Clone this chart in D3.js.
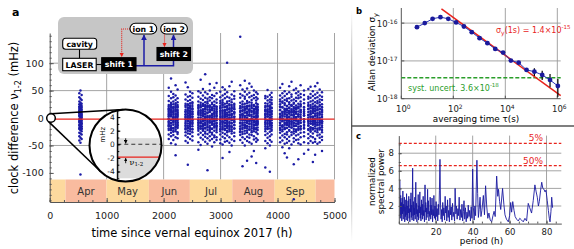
<!DOCTYPE html>
<html>
<head>
<meta charset="utf-8">
<script src="https://cdnjs.cloudflare.com/ajax/libs/d3/7.8.5/d3.min.js"></script>
<style>
body { margin: 0; background: #fff; }
svg { display: block; font-family: "DejaVu Sans", Verdana, sans-serif; }
</style>
</head>
<body>
<script>
"use strict";

// ---------- panel a data ----------
var monthStart = [0, 277, 997, 1741, 2461, 3205, 3949, 4669, 5000];
var monthName = ["", "Apr", "May", "Jun", "Jul", "Aug", "Sep", ""];
var meanShift = -1.9; // mHz

// measurement runs: hour since equinox, and clock differences (mHz) in that run
var runHour = [520, 540, 560,
	2090, 2130, 2170, 2210, 2245,
	2385, 2425, 2465, 2505,
	2610, 2650, 2690, 2730, 2770, 2810, 2850, 2890, 2930,
	2995, 3035, 3075, 3115, 3155, 3195, 3240,
	3345, 3385, 3425, 3465, 3505, 3545, 3585, 3625, 3650,
	3785, 3825, 3865, 3895,
	4045, 4085, 4125, 4165, 4205, 4245, 4285, 4325, 4365, 4405, 4465,
	4540, 4580, 4620, 4660, 4700, 4740, 4780];
// wider spread of each run
var runVals = [
	[12,-8,25,-20,3,38,-33,17,-2,-14,45,8,-27,30,-41,21],
	[-5,15,-22,28,2,-12,50,-36,9,-18,35,-3,22,-28,14,-45,-103],
	[6,-15,19,-30,33,-7,11,-24,42,0,-10,26,-38,16,-19,4],
	[18,-6,31,-22,4,12,-15,40,-30,24,-2,9,-38,15,55,-11],
	[-9,22,3,-27,14,-17,36,7,-4,28,-33,19,-46,10,-20,48,72],
	[25,-12,6,-31,17,-3,38,-19,11,30,-25,1,-8,44,-40,20],
	[-2,14,-24,33,8,-15,21,-35,27,-7,3,-48,16,41,-21,60,-68],
	[10,-18,29,-5,19,-29,2,36,-12,24,-37,13,-9,52,-26,6],
	[7,-21,26,-10,34,-3,15,-32,20,-16,43,1,-26,12,-42,65],
	[-14,23,4,-28,31,-6,17,-19,9,39,-35,25,-1,-45,14,56,-85],
	[20,-9,33,-24,5,-16,27,-3,12,-38,40,-12,18,-29,2,48],
	[-4,16,-20,29,-11,8,-33,22,37,-26,11,-7,45,-41,3,26],
	[13,-17,30,-8,22,-30,6,-14,39,-23,17,-3,-44,49,10,-58],
	[-7,24,-19,35,1,-27,14,-10,28,-36,8,46,-15,19,-49,70],
	[22,-4,-23,16,33,-13,5,-31,26,-2,41,-39,11,-20,53,-6],
	[3,-25,18,-11,29,-34,12,-1,37,-18,24,-43,7,47,-28,80],
	[-12,27,-6,21,-29,9,35,-16,2,-37,15,44,-22,30,-47,-95],
	[16,-8,32,-20,4,23,-33,11,-14,38,-26,20,-2,50,-41,62],
	[-3,19,-27,8,36,-12,25,-38,14,-19,42,1,-30,28,-52,17],
	[9,-15,24,-32,30,-6,17,-23,40,-10,6,-44,21,-1,55,-35],
	[-18,12,34,-9,20,-26,3,28,-35,15,-13,45,-40,8,-4,64],
	[14,-20,27,-5,38,-30,9,-12,22,-39,31,0,-24,48,-46,18],
	[-6,25,-16,33,2,-27,19,-9,41,-34,11,-21,29,-48,56,-73],
	[21,-2,-29,15,36,-14,7,-37,26,-19,44,4,-8,-43,13,52],
	[-10,30,-23,10,-4,39,-32,20,-15,27,-42,6,47,-26,16,101],
	[5,-13,23,-35,31,-1,16,-24,37,-7,12,-45,25,-18,58,-62],
	[-15,18,-28,7,34,-10,24,-39,1,29,-21,43,-3,13,-50,66],
	[11,-7,26,-19,40,-33,3,20,-12,35,-27,8,-42,49,-2,17],
	[-1,22,-26,13,37,-15,6,-31,28,-8,18,-40,44,-20,60,148],
	[19,-11,30,-4,-25,14,41,-35,8,-17,25,-45,2,52,-29,-88],
	[-8,26,-18,4,35,-28,15,-2,39,-38,21,-13,48,10,-50,68],
	[12,-23,31,-9,20,-34,1,27,-16,43,-42,9,-5,54,-27,-78],
	[-16,7,29,-21,16,-36,38,-3,23,-10,46,-44,5,-30,63,14],
	[24,-5,-31,11,33,-19,3,-26,40,-12,18,-47,28,-1,57,-70],
	[-3,17,-24,36,-14,8,-33,22,-7,42,-39,13,-20,50,2,-60],
	[8,-26,21,-11,32,-2,-37,15,27,-18,4,-43,38,-9,47,-82],
	[-12,19,2,-29,25,-6,35,-22,11,-40,16,44],
	[15,-9,27,-24,4,36,-31,12,-16,22,-2,-42,40,8,-55,-90],
	[-5,21,-19,32,9,-28,16,-11,39,-36,3,26,-46,13,51,-20],
	[18,-14,6,-33,29,-3,23,-25,10,42,-40,1,-8,34,-50,-98],
	[-9,25,-21,13,-1,33,-30,19,-13,38,-43,7,46,-17,28],
	[20,-3,-27,14,34,-18,8,-36,25,-9,41,-44,2,-22,55,30],
	[-13,28,-6,19,-32,11,37,-24,4,-15,30,-41,45,-1,-53,62],
	[7,-20,24,-10,33,-29,16,-4,40,-35,12,-17,27,-47,49,-64],
	[-2,17,-26,31,-13,6,-38,22,35,-8,-30,14,44,-45,1,-72],
	[25,-11,9,-23,36,-5,18,-34,29,-16,3,-42,47,13,-55,58],
	[-7,22,-17,5,32,-31,13,-1,39,-26,24,-12,-48,43,10,66],
	[14,-24,28,-8,20,-37,2,34,-15,10,-43,26,-4,51,-28,-84,-148],
	[-10,31,-21,16,-3,37,-32,8,23,-14,45,-40,0,-25,54,19],
	[3,-16,26,-30,12,-6,36,-22,19,-39,41,7,-11,48,-46,-75],
	[-15,21,-4,30,-27,10,38,-19,14,-35,2,25,-48,44,-8,60],
	[9,-19,27,-12,34,-33,5,20,-2,42,-26,15,-44,50,-8,-65],
	[-6,24,-22,11,35,-29,17,-3,39,-37,6,-14,28,-46,53,-58],
	[18,-10,30,-25,3,-17,37,-33,13,24,-2,-42,44,-20,57,8],
	[-11,15,-28,26,-4,40,-35,9,-18,32,1,-45,21,-7,49,-80],
	[22,-5,-24,12,36,-15,4,-38,29,-10,18,-43,43,-1,58,-67],
	[-3,27,-19,8,31,-32,20,-12,38,-26,14,-47,2,46,-8,64],
	[11,-21,24,-7,34,-30,16,-2,41,-36,6,-17,29,-44,52],
	[-8,19,-26,13,33,-14,2,-34,25,-6,39,-40,10,47,-22,-60]
];
// dense core of each run
var runCore = [
	[5,-12,20,-3,9,-18,14,-6],[-9,3,18,-15,7,-1,24,-21],[2,-20,13,-4,22,-11,8,-16],
	[-13,7,21,-1,15,-19,3,-8],[11,-3,-14,25,-22,5,16,-10],[-6,13,-18,2,9,-23,19,-1],
	[6,-11,24,-17,1,12,-4,19],[-16,4,15,-8,-2,21,-13,8],[3,-7,11,-19,23,-13,6,-2],
	[8,-17,19,-4,-10,2,13,-23],[-1,14,-7,23,-20,9,-15,6],[12,-9,2,-15,18,-2,7,-21],
	[-5,1,19,-12,8,-20,24,-9],[10,-15,5,-3,21,-8,-19,13],[-11,8,-16,24,3,-6,14,-22],
	[16,-4,-13,8,-19,21,1,-8],[1,19,-9,10,-17,4,23,-3],[-8,12,-17,22,-5,2,13,-23],
	[7,-1,-20,15,4,-11,19,-7],[-12,3,13,-5,22,-17,9,-2],[5,-9,21,-15,-1,11,-22,17],
	[-3,6,-16,12,-9,19,-21,3],[14,-12,8,-1,-18,23,4,-7],[-9,2,-4,20,-14,9,-22,13],
	[3,-18,15,-7,7,-1,22,-12],[-2,10,-9,18,-21,6,-15,1],[8,-4,14,-17,4,-9,20,-24],
	[-5,16,-13,2,24,-7,10,-19],[6,-19,11,-3,-10,18,-24,2],[-13,5,-2,13,21,-20,7,-8],
	[2,-12,18,-23,10,-4,-16,15],[-7,9,-19,5,17,-1,22,-14],[11,-3,-11,21,-6,4,-21,14],
	[-4,13,-16,6,-9,20,-2,-23],[9,-8,3,-18,15,-12,24,-5],[-1,11,-21,17,-6,2,-13,19],
	[4,-8,14,-3,-17,8,21,-10],[-3,7,-12,19,-7,1,-20,14],[12,-4,-15,3,22,-9,7,-18],
	[-6,15,-1,-19,11,5,-11,20],[3,-9,18,-14,-4,9,-23,13],[-8,6,-13,21,-2,15,-18,1],
	[4,-16,11,-5,20,-21,8,-1],[-12,9,-3,17,-8,3,-20,13],[10,-5,-18,4,14,-11,22,-2],
	[-3,13,-7,19,-14,1,-22,8],[6,-10,16,-2,-17,11,-6,23],[-9,4,-20,12,-1,18,-13,7],
	[2,-14,9,-22,17,-5,12,-1],[-5,18,-11,6,-19,3,21,-8],[11,-1,-9,15,-15,6,-21,24],
	[-2,8,-14,19,4,-18,12,-6],[5,-20,16,-9,1,-3,22,-13],[-10,2,-17,20,-6,11,-23,7],
	[3,-6,13,-21,9,-12,18,-2],[-7,14,-3,8,-19,23,-11,4],[9,-13,5,-1,16,-8,-22,20],
	[-4,1,-12,17,-18,8,22,-9],[6,-17,13,-3,20,-10,-6,15]
];

// ---------- panel b data ----------
var adevTau = [4, 8, 16, 32, 64, 128, 256, 512, 1024, 2048, 4096, 8192, 16384, 32768,
	65536, 131072, 262144, 524288, 1048576];
var adevSigma = [7.83e-17, 1.0e-16, 1.30e-16, 1.44e-16, 1.30e-16, 1.04e-16, 8.13e-17, 5.77e-17,
	4.0e-17, 2.94e-17, 2.08e-17, 1.66e-17, 1.02e-17, 9.0e-18, 5.77e-18, 5.2e-18, 4.26e-18,
	3.13e-18, 2.17e-18];
var adevHi = [null, null, null, null, null, null, null, null, null, null, null, null,
	1.1e-17, 9.8e-18, 6.5e-18, 6.4e-18, 5.53e-18, 4.52e-18, 3.33e-18];
var adevLo = [null, null, null, null, null, null, null, null, null, null, null, null,
	9.3e-18, 8.3e-18, 5.1e-18, 4.0e-18, 3.13e-18, 2.0e-18, 1.13e-18];
var fitTau = [35, 1.35e6];
var fitSigma = [2.37e-16, 1.2e-18];
var systUncert = 3.6e-18;

// ---------- panel c data ----------
var specData = [
	[0.6,4.9],[0.8,0.6],[1.0,3.2],[1.2,0.9],[1.4,2.4],[1.6,0.3],[1.8,2.9],[2.0,1.1],[2.2,3.7],[2.4,0.5],
	[2.6,2.2],[2.8,1.4],[3.0,3.0],[3.2,0.2],[3.4,1.9],[3.6,0.8],[3.8,2.7],[4.0,0.4],[4.2,3.4],[4.4,1.0],
	[4.6,2.0],[4.8,0.3],[5.0,2.6],[5.2,1.2],[5.4,3.1],[5.6,0.6],[5.8,1.7],[6.0,0.2],[6.2,2.8],[6.4,1.3],
	[6.6,3.5],[6.8,0.7],[7.0,2.1],[7.2,0.4],[7.5,6.3],[7.7,0.9],[7.9,2.5],[8.1,0.3],[8.3,1.8],[8.5,1.0],
	[8.7,3.0],[8.9,0.5],[9.2,4.7],[9.4,1.1],[9.6,2.3],[9.8,0.2],[10.0,1.6],[10.2,0.8],[10.5,3.3],[10.7,0.4],
	[10.9,2.0],[11.1,1.2],[11.4,3.6],[11.6,0.6],[11.8,1.9],[12.0,0.3],[12.3,2.7],[12.5,1.0],[12.7,2.2],[12.9,0.5],
	[13.2,3.1],[13.4,0.9],[13.6,1.5],[13.9,0.2],[14.2,4.4],[14.4,1.3],[14.6,2.4],[14.8,0.4],[15.1,1.8],[15.3,0.7],
	[15.6,3.9],[15.8,1.1],[16.0,2.6],[16.3,0.3],[16.5,1.4],[16.8,0.8],[17.0,3.0],[17.3,0.5],[17.5,2.1],[17.8,1.0],
	[18.0,2.9],[18.3,0.2],[18.5,1.6],[18.8,0.9],[19.0,3.2],[19.3,0.6],[19.6,2.0],[19.9,0.4],
	[20.2,2.5],[20.5,0.8],[20.8,1.7],[21.1,0.3],[21.4,2.2],[21.7,1.0],[22.0,3.8],[22.3,7.3],[22.6,2.1],[22.9,0.5],
	[23.2,1.6],[23.5,0.2],[23.8,2.4],[24.1,0.9],[24.4,1.8],[24.8,0.4],[25.1,3.1],[25.4,1.2],[25.7,2.0],[26.0,0.3],
	[26.4,2.7],[26.7,0.7],[27.0,1.5],[27.4,0.2],[27.7,2.9],[28.0,1.0],[28.4,1.9],[28.7,0.4],[29.1,2.3],[29.4,0.8],
	[29.8,1.3],[30.2,0.3],[30.5,4.0],[30.9,1.1],[31.2,2.0],[31.6,0.5],[32.0,1.7],[32.3,0.9],[32.7,3.0],[33.1,0.4],
	[33.5,1.6],[33.9,0.7],[34.2,2.2],[34.6,0.3],[35.0,1.4],[35.3,2.6],[35.7,0.5],[36.1,1.8],[36.5,0.2],[36.9,1.3],
	[37.3,0.6],[37.6,2.1],[38.0,0.8],[38.4,1.5],[38.8,0.3],[39.2,1.9],[39.6,0.6],[40.0,6.2],[40.4,1.8],[40.8,0.4],
	[41.2,2.0],[41.6,0.9],[42.0,4.5],[42.3,7.2],[42.7,3.4],[43.1,0.7],[43.5,1.6],[44.0,3.0],[44.5,0.8],[45.0,1.5],
	[45.8,3.2],[46.4,1.0],[47.0,4.3],[47.6,2.0],[48.2,0.6],[48.8,1.2],[49.5,0.4],[50.3,0.2],[51.0,0.9],[51.6,1.4],
	[52.2,0.8],[53.0,5.4],[53.6,3.1],[54.0,3.9],[54.6,2.5],[55.2,1.6],[56.2,4.0],[56.9,2.2],[57.5,1.0],[58.3,0.5],
	[59.3,0.2],[60.0,0.9],[60.6,2.4],[61.1,1.3],[61.7,2.5],[62.4,1.5],[63.0,0.8],[63.8,0.5],[64.7,0.3],[65.5,0.6],
	[66.5,0.4],[67.4,0.2],[68.3,0.6],[69.2,0.3],[70.1,2.3],[70.9,1.8],[71.9,1.2],[72.8,2.6],[73.7,4.4],[74.4,3.6],
	[75.0,3.0],[75.6,2.0],[76.1,2.5],[76.8,3.8],[77.4,4.7],[78.0,4.0],[78.6,3.9],[79.2,3.6],[79.7,3.8],[80.4,2.6],
	[81.0,1.5],[81.5,0.6],[81.9,0.2],[82.4,1.4],[82.8,3.0],[83.3,1.8]
];
var falseAlarm = [9.12, 6.58];
var falseAlarmLabel = ["5%", "50%"];

// ---------- drawing ----------
var width = 574, height = 249;
var red = "#e8231c", blue = "#1c1ca6", gridCol = "#9a9a9a";

var svg = d3.select("body").append("svg")
	.attr("width", width)
	.attr("height", height);
var defs = svg.append("defs");

function hline(g, x1, x2, y, col, w) {
	return g.append("line").attr("x1", x1).attr("x2", x2).attr("y1", y).attr("y2", y)
		.attr("stroke", col).attr("stroke-width", w);
}
function vline(g, x, y1, y2, col, w) {
	return g.append("line").attr("x1", x).attr("x2", x).attr("y1", y1).attr("y2", y2)
		.attr("stroke", col).attr("stroke-width", w);
}
function pow10(t, e, size) {
	t.append("tspan").text("10");
	t.append("tspan").attr("font-size", size).attr("dy", "-0.5em").text(e);
}
function mark(id, col) {
	defs.append("marker").attr("id", id).attr("viewBox", "0 0 10 10").attr("refX", 9).attr("refY", 5)
		.attr("markerWidth", 4).attr("markerHeight", 4).attr("orient", "auto")
		.append("path").attr("d", "M0,0L10,5L0,10z").attr("fill", col);
}
mark("arB", blue);
mark("arR", red);
mark("arK", "#000");

// ===== panel a =====
var xA = d3.scaleLinear().domain([0, 5000]).range([49.7, 334.5]);
var yA = d3.scaleLinear().domain([-153, 155]).range([202, 33]);
var gA = svg.append("g");

[1000, 2000, 3000, 4000, 5000].forEach(function(d) {
	vline(gA, xA(d), yA(155), yA(-112), gridCol, 0.9);
});
[-50, 50, 100].forEach(function(d) {
	hline(gA, xA(0), xA(5000), yA(d), gridCol, 0.9);
});

// month bands
var months = monthName.map(function(n, i) { return { name: n, a: monthStart[i], b: monthStart[i + 1], i: i }; });
gA.selectAll(".month").data(months).enter().append("rect")
	.attr("x", function(d) { return xA(d.a); })
	.attr("width", function(d) { return xA(d.b) - xA(d.a); })
	.attr("y", yA(-112))
	.attr("height", yA(-153) - yA(-112))
	.attr("fill", function(d) { return d.i % 2 ? "#f9bb9f" : "#fdd99e"; });
gA.selectAll(".mlabel").data(months.filter(function(d) { return d.name; })).enter().append("text")
	.attr("x", function(d) { return xA((d.a + d.b) / 2); })
	.attr("y", 194.5)
	.attr("text-anchor", "middle")
	.attr("font-size", 10)
	.attr("fill", "#333")
	.text(function(d) { return d.name; });

// axes
gA.append("g").attr("transform", "translate(" + xA(0) + ",0)")
	.call(d3.axisLeft(yA).tickValues([-100, -50, 0, 50, 100]).tickSizeInner(-4).tickSizeOuter(0)
		.tickPadding(6).tickFormat(function(d) { return String(d); }));
gA.append("g").attr("transform", "translate(" + xA(0) + ",0)")
	.call(d3.axisLeft(yA).tickValues(d3.range(-150, 151, 10)).tickSize(-2).tickFormat(""))
	.call(function(g) { g.select(".domain").remove(); });
gA.append("g").attr("transform", "translate(0," + yA(-153) + ")")
	.call(d3.axisBottom(xA).tickValues([0, 1000, 2000, 3000, 4000, 5000]).tickSizeInner(-4).tickSizeOuter(0)
		.tickPadding(10).tickFormat(function(d) { return String(d); }));
gA.append("g").attr("transform", "translate(0," + yA(-153) + ")")
	.call(d3.axisBottom(xA).tickValues(d3.range(0, 5001, 250)).tickSize(-2).tickFormat(""))
	.call(function(g) { g.select(".domain").remove(); });
gA.selectAll(".tick text").attr("font-size", 9.5).attr("font-family", "DejaVu Sans").attr("fill", "#222");
gA.selectAll(".tick line").attr("stroke", "#555");
gA.selectAll(".domain").attr("stroke", "#555");

// data points
var pts = [];
runHour.forEach(function(h, i) {
	runVals[i].concat(runCore[i]).forEach(function(v) { pts.push([h, v]); });
});
gA.selectAll(".pt").data(pts).enter().append("circle")
	.attr("cx", function(d) { return xA(d[0]); })
	.attr("cy", function(d) { return yA(d[1]); })
	.attr("r", 1.25)
	.attr("fill", blue);

hline(gA, xA(0), xA(5000), yA(meanShift), red, 1.3);

// axis titles
gA.append("text").attr("x", 192).attr("y", 237).attr("text-anchor", "middle").attr("font-size", 11.5)
	.text("time since vernal equinox 2017 (h)");
var yt = gA.append("text").attr("transform", "translate(18,118) rotate(-90)")
	.attr("text-anchor", "middle").attr("font-size", 11.5);
yt.append("tspan").text("clock difference \u03bd");
yt.append("tspan").attr("font-size", 8).attr("dy", 3).text("1-2");
yt.append("tspan").attr("dy", -3).text(" (mHz)");
svg.append("text").attr("x", 12).attr("y", 16).attr("font-size", 11).attr("font-weight", "bold").text("a");

// schematic inset
var sch = svg.append("g").attr("font-weight", "bold").attr("font-size", 7.8);
sch.append("rect").attr("x", 58).attr("y", 17).attr("width", 135).attr("height", 57).attr("rx", 6)
	.attr("fill", "#c6c6c6");
function box(x, y, w, h, label, dark, rx) {
	sch.append("rect").attr("x", x).attr("y", y).attr("width", w).attr("height", h).attr("rx", rx)
		.attr("fill", dark ? "#000" : "#fff").attr("stroke", "#000").attr("stroke-width", 1.1);
	sch.append("text").attr("x", x + w / 2).attr("y", y + h / 2 + 3).attr("text-anchor", "middle")
		.attr("fill", dark ? "#fff" : "#000").text(label);
}
vline(sch, 79.5, 49.3, 58.3, "#000", 1.1);
hline(sch, 96.2, 101.7, 64.5, "#000", 1.1);
sch.append("path").attr("d", "M136,65.7H173.5V60.5").attr("fill", "none").attr("stroke", blue).attr("stroke-width", 1.5);
sch.append("path").attr("d", "M144,65.7V35").attr("fill", "none").attr("stroke", blue).attr("stroke-width", 1.5)
	.attr("marker-end", "url(#arB)");
sch.append("path").attr("d", "M173.5,47.5V35").attr("fill", "none").attr("stroke", blue).attr("stroke-width", 1.5)
	.attr("marker-end", "url(#arB)");
sch.append("path").attr("d", "M130,29H121.7V56.7").attr("fill", "none").attr("stroke", red).attr("stroke-width", 1.1)
	.attr("stroke-dasharray", "1,1").attr("marker-end", "url(#arR)");
sch.append("path").attr("d", "M164.5,34.5V46.7").attr("fill", "none").attr("stroke", red).attr("stroke-width", 1.1)
	.attr("stroke-dasharray", "1,1").attr("marker-end", "url(#arR)");
box(62.7, 38.3, 34, 11, "cavity", false, 3);
box(62.7, 58.3, 33.5, 12.4, "LASER", false, 0);
box(101.7, 57.7, 34.3, 13, "shift 1", true, 0);
box(157, 47.5, 33.5, 13, "shift 2", true, 0);
box(130, 23.3, 26.7, 10.7, "ion 1", false, 5.3);
box(160.7, 23.3, 26.7, 10.7, "ion 2", false, 5.3);

// magnifier
var c1 = { x: xA(0) + 1.3, y: yA(0), r: 4.3 };
var c2 = { x: 125.5, y: 145.5, r: 36 };
var mag = svg.append("g");
(function() {
	var dx = c2.x - c1.x, dy = c2.y - c1.y, d = Math.sqrt(dx * dx + dy * dy);
	var base = Math.atan2(dy, dx), th = Math.acos((c2.r - c1.r) / d);
	[base + th, base - th].forEach(function(a) {
		var nx = Math.cos(a), ny = Math.sin(a);
		mag.append("line")
			.attr("x1", c1.x - c1.r * nx).attr("y1", c1.y - c1.r * ny)
			.attr("x2", c2.x - c2.r * nx).attr("y2", c2.y - c2.r * ny)
			.attr("stroke", "#000").attr("stroke-width", 1.5);
	});
})();
mag.append("circle").attr("cx", c1.x).attr("cy", c1.y).attr("r", c1.r)
	.attr("fill", "#fff").attr("stroke", "#000").attr("stroke-width", 1.5);
mag.append("circle").attr("cx", c2.x).attr("cy", c2.y).attr("r", c2.r).attr("fill", "#fff");
defs.append("clipPath").attr("id", "magClip").append("circle")
	.attr("cx", c2.x).attr("cy", c2.y).attr("r", c2.r - 0.5);
var inner = mag.append("g").attr("clip-path", "url(#magClip)");
var yI = d3.scaleLinear().domain([-5, 5]).range([178.3, 110.3]);
var axX = 117.3, rightX = 163;
inner.append("rect").attr("x", axX).attr("y", yI(0.9)).attr("width", rightX - axX)
	.attr("height", yI(-5) - yI(0.9)).attr("fill", "#dcdcdc");
hline(inner, axX, rightX, yI(0), "#333", 1.1).attr("stroke-dasharray", "4,3");
hline(inner, axX, rightX, yI(meanShift), red, 1.3);
inner.append("g").attr("transform", "translate(" + axX + ",0)")
	.call(d3.axisLeft(yI).tickValues([-4, -2, 0, 2, 4]).tickSizeInner(-3).tickSizeOuter(0).tickPadding(2.5)
		.tickFormat(function(d) { return String(d); }))
	.call(function(g) {
		g.select(".domain").attr("stroke", "#000");
		g.selectAll("text").attr("font-size", 7.5).attr("font-family", "DejaVu Sans").attr("fill", "#222");
	});
inner.append("g").attr("transform", "translate(" + axX + ",0)")
	.call(d3.axisLeft(yI).tickValues(d3.range(-5, 6, 1)).tickSize(-2).tickFormat(""))
	.call(function(g) { g.select(".domain").remove(); });
vline(inner, axX, 100, 190, "#000", 1);
// indicator arrows for nu_1-2
inner.append("path").attr("d", "M125.7," + (yI(0) - 6) + "V" + (yI(0) - 1))
	.attr("stroke", "#000").attr("stroke-width", 0.9).attr("marker-end", "url(#arK)");
inner.append("path").attr("d", "M125.7," + (yI(meanShift) + 6) + "V" + (yI(meanShift) + 1))
	.attr("stroke", "#000").attr("stroke-width", 0.9).attr("marker-end", "url(#arK)");
var nuT = inner.append("text").attr("x", 129.5).attr("y", yI(meanShift) + 7.5).attr("font-size", 8)
	.attr("font-family", "DejaVu Serif, serif");
nuT.append("tspan").text("\u03bd");
nuT.append("tspan").attr("font-size", 5.5).attr("dy", 1.5).text("1-2");
inner.append("text").attr("transform", "translate(104.5," + yI(1.4) + ") rotate(-90)")
	.attr("text-anchor", "middle").attr("font-size", 7).text("mHz");
mag.append("circle").attr("cx", c2.x).attr("cy", c2.y).attr("r", c2.r)
	.attr("fill", "none").attr("stroke", "#000").attr("stroke-width", 2);

// ===== dividers =====
var grad = defs.append("linearGradient").attr("id", "vfade").attr("x1", 0).attr("x2", 0).attr("y1", 0).attr("y2", 1);
grad.append("stop").attr("offset", "0%").attr("stop-color", "#777").attr("stop-opacity", 0);
grad.append("stop").attr("offset", "50%").attr("stop-color", "#555").attr("stop-opacity", 1);
grad.append("stop").attr("offset", "100%").attr("stop-color", "#777").attr("stop-opacity", 0);
svg.append("rect").attr("x", 351).attr("y", 10).attr("width", 1.3).attr("height", 232).attr("fill", "url(#vfade)");
hline(svg, 351, 574, 126, "#555", 1.5);

// ===== panel b =====
var xB = d3.scaleLog().domain([1, Math.pow(10, 6.13)]).range([401.3, 560.7]);
var yB = d3.scaleLog().domain([1e-18, Math.pow(10, -15.6)]).range([98.7, 8]);
var gB = svg.append("g");
[1e2, 1e4, 1e6].forEach(function(d) { vline(gB, xB(d), yB.range()[1], yB.range()[0], gridCol, 0.9); });
[1e-16, 1e-17].forEach(function(d) { hline(gB, xB.range()[0], xB.range()[1], yB(d), gridCol, 0.9); });
vline(gB, xB.range()[0], yB.range()[1], yB.range()[0], "#555", 1);
hline(gB, xB.range()[0], xB.range()[1], yB.range()[0], "#555", 1);
[1e-16, 1e-17, 1e-18].forEach(function(d, i) {
	hline(gB, xB.range()[0], xB.range()[0] + 3, yB(d), "#555", 1);
	var t = gB.append("text").attr("x", 397.5).attr("y", yB(d) + 3.5).attr("text-anchor", "end")
		.attr("font-size", 8.5).attr("fill", "#222");
	pow10(t, "-" + (16 + i), 6);
});
[0, 2, 4, 6].forEach(function(e) {
	vline(gB, xB(Math.pow(10, e)), yB.range()[0], yB.range()[0] - 3, "#555", 1);
	var t = gB.append("text").attr("x", xB(Math.pow(10, e)) + 2).attr("y", 112).attr("text-anchor", "middle")
		.attr("font-size", 8.5).attr("fill", "#222");
	pow10(t, String(e), 6);
});
hline(gB, xB.range()[0], xB.range()[1], yB(systUncert), "#2a9d2a", 1.5).attr("stroke-dasharray", "4,2");
gB.append("line")
	.attr("x1", xB(fitTau[0])).attr("y1", yB(fitSigma[0]))
	.attr("x2", xB(fitTau[1])).attr("y2", yB(fitSigma[1]))
	.attr("stroke", red).attr("stroke-width", 1.5);
var adev = adevTau.map(function(t, i) { return { t: t, s: adevSigma[i], lo: adevLo[i], hi: adevHi[i] }; });
gB.append("path").datum(adev)
	.attr("d", d3.line().x(function(d) { return xB(d.t); }).y(function(d) { return yB(d.s); }))
	.attr("fill", "none").attr("stroke", "#2a34b4").attr("stroke-width", 1);
gB.selectAll(".eb").data(adev.filter(function(d) { return d.lo; })).enter().append("line")
	.attr("x1", function(d) { return xB(d.t); }).attr("x2", function(d) { return xB(d.t); })
	.attr("y1", function(d) { return yB(d.hi); }).attr("y2", function(d) { return yB(d.lo); })
	.attr("stroke", "#000").attr("stroke-width", 1.2);
gB.selectAll(".ad").data(adev).enter().append("circle")
	.attr("cx", function(d) { return xB(d.t); }).attr("cy", function(d) { return yB(d.s); })
	.attr("r", 2.4).attr("fill", "#1a1a9c");
var rt = gB.append("text").attr("x", 496).attr("y", 32.5).attr("font-size", 8).attr("fill", red);
rt.append("tspan").text("\u03c3");
rt.append("tspan").attr("font-size", 6).attr("dy", 2).text("y");
rt.append("tspan").attr("dy", -2).text("(1s) = 1.4\u00d710");
rt.append("tspan").attr("font-size", 5.5).attr("dy", -3.5).text("-15");
var gt = gB.append("text").attr("x", 408).attr("y", 90.5).attr("font-size", 8).attr("fill", "#2a9d2a");
gt.append("tspan").text("syst. uncert. 3.6\u00d710");
gt.append("tspan").attr("font-size", 5.5).attr("dy", -3.5).text("-18");
var at = gB.append("text").attr("transform", "translate(375,52) rotate(-90)").attr("text-anchor", "middle")
	.attr("font-size", 8.8);
at.append("tspan").text("Allan deviation \u03c3");
at.append("tspan").attr("font-size", 6.5).attr("dy", 2.5).text("y");
gB.append("text").attr("x", 476).attr("y", 121.5).attr("text-anchor", "middle").attr("font-size", 8.8)
	.text("averaging time \u03c4(s)");
svg.append("text").attr("x", 356).attr("y", 14).attr("font-size", 8.5).attr("font-weight", "bold").text("b");

// ===== panel c =====
var xC = d3.scaleLinear().domain([0, 88]).range([398.8, 561.3]);
var yC = d3.scaleLinear().domain([0, 10]).range([223.6, 135.6]);
var gC = svg.append("g");
[20, 40, 60, 80].forEach(function(d) { vline(gC, xC(d), yC(10), yC(0), gridCol, 0.9); });
[2, 4, 6, 8].forEach(function(d) { hline(gC, xC(0), xC(88), yC(d), gridCol, 0.9); });
falseAlarm.forEach(function(d, i) {
	hline(gC, xC(0), xC(88), yC(d), red, 1.2).attr("stroke-dasharray", "3,2");
	gC.append("text").attr("x", 543).attr("y", yC(d) - 2).attr("text-anchor", "end").attr("font-size", 9)
		.attr("fill", red).text(falseAlarmLabel[i]);
});
defs.append("clipPath").attr("id", "cClip").append("rect")
	.attr("x", xC(0)).attr("y", yC(10)).attr("width", xC(88) - xC(0)).attr("height", yC(0) - yC(10));
gC.append("path").datum(specData).attr("clip-path", "url(#cClip)")
	.attr("d", d3.line().x(function(d) { return xC(d[0]); }).y(function(d) { return yC(d[1]); }))
	.attr("fill", "none").attr("stroke", "#1a1aa0").attr("stroke-width", 0.9);
gC.append("g").attr("transform", "translate(" + xC(0) + ",0)")
	.call(d3.axisLeft(yC).tickValues([2, 4, 6, 8]).tickSizeInner(-3).tickSizeOuter(0).tickPadding(5));
gC.append("g").attr("transform", "translate(" + xC(0) + ",0)")
	.call(d3.axisLeft(yC).tickValues(d3.range(1, 10, 1)).tickSize(-2).tickFormat(""))
	.call(function(g) { g.select(".domain").remove(); });
gC.append("g").attr("transform", "translate(0," + yC(0) + ")")
	.call(d3.axisBottom(xC).tickValues([20, 40, 60, 80]).tickSizeInner(-3).tickSizeOuter(0).tickPadding(5));
gC.append("g").attr("transform", "translate(0," + yC(0) + ")")
	.call(d3.axisBottom(xC).tickValues(d3.range(0, 88, 5)).tickSize(-2).tickFormat(""))
	.call(function(g) { g.select(".domain").remove(); });
gC.selectAll(".tick text").attr("font-size", 8.5).attr("font-family", "DejaVu Sans").attr("fill", "#222");
gC.selectAll(".tick line").attr("stroke", "#555");
gC.selectAll(".domain").attr("stroke", "#555");
gC.append("text").attr("x", 481.5).attr("y", 243.5).attr("text-anchor", "middle").attr("font-size", 8.8)
	.text("period (h)");
gC.append("text").attr("transform", "translate(375,181.5) rotate(-90)").attr("text-anchor", "middle")
	.attr("font-size", 8.8).text("normalized");
gC.append("text").attr("transform", "translate(384,181.5) rotate(-90)").attr("text-anchor", "middle")
	.attr("font-size", 8.8).text("spectral power");
svg.append("text").attr("x", 356).attr("y", 139).attr("font-size", 8.5).attr("font-weight", "bold").text("c");
</script>
</body>
</html>
